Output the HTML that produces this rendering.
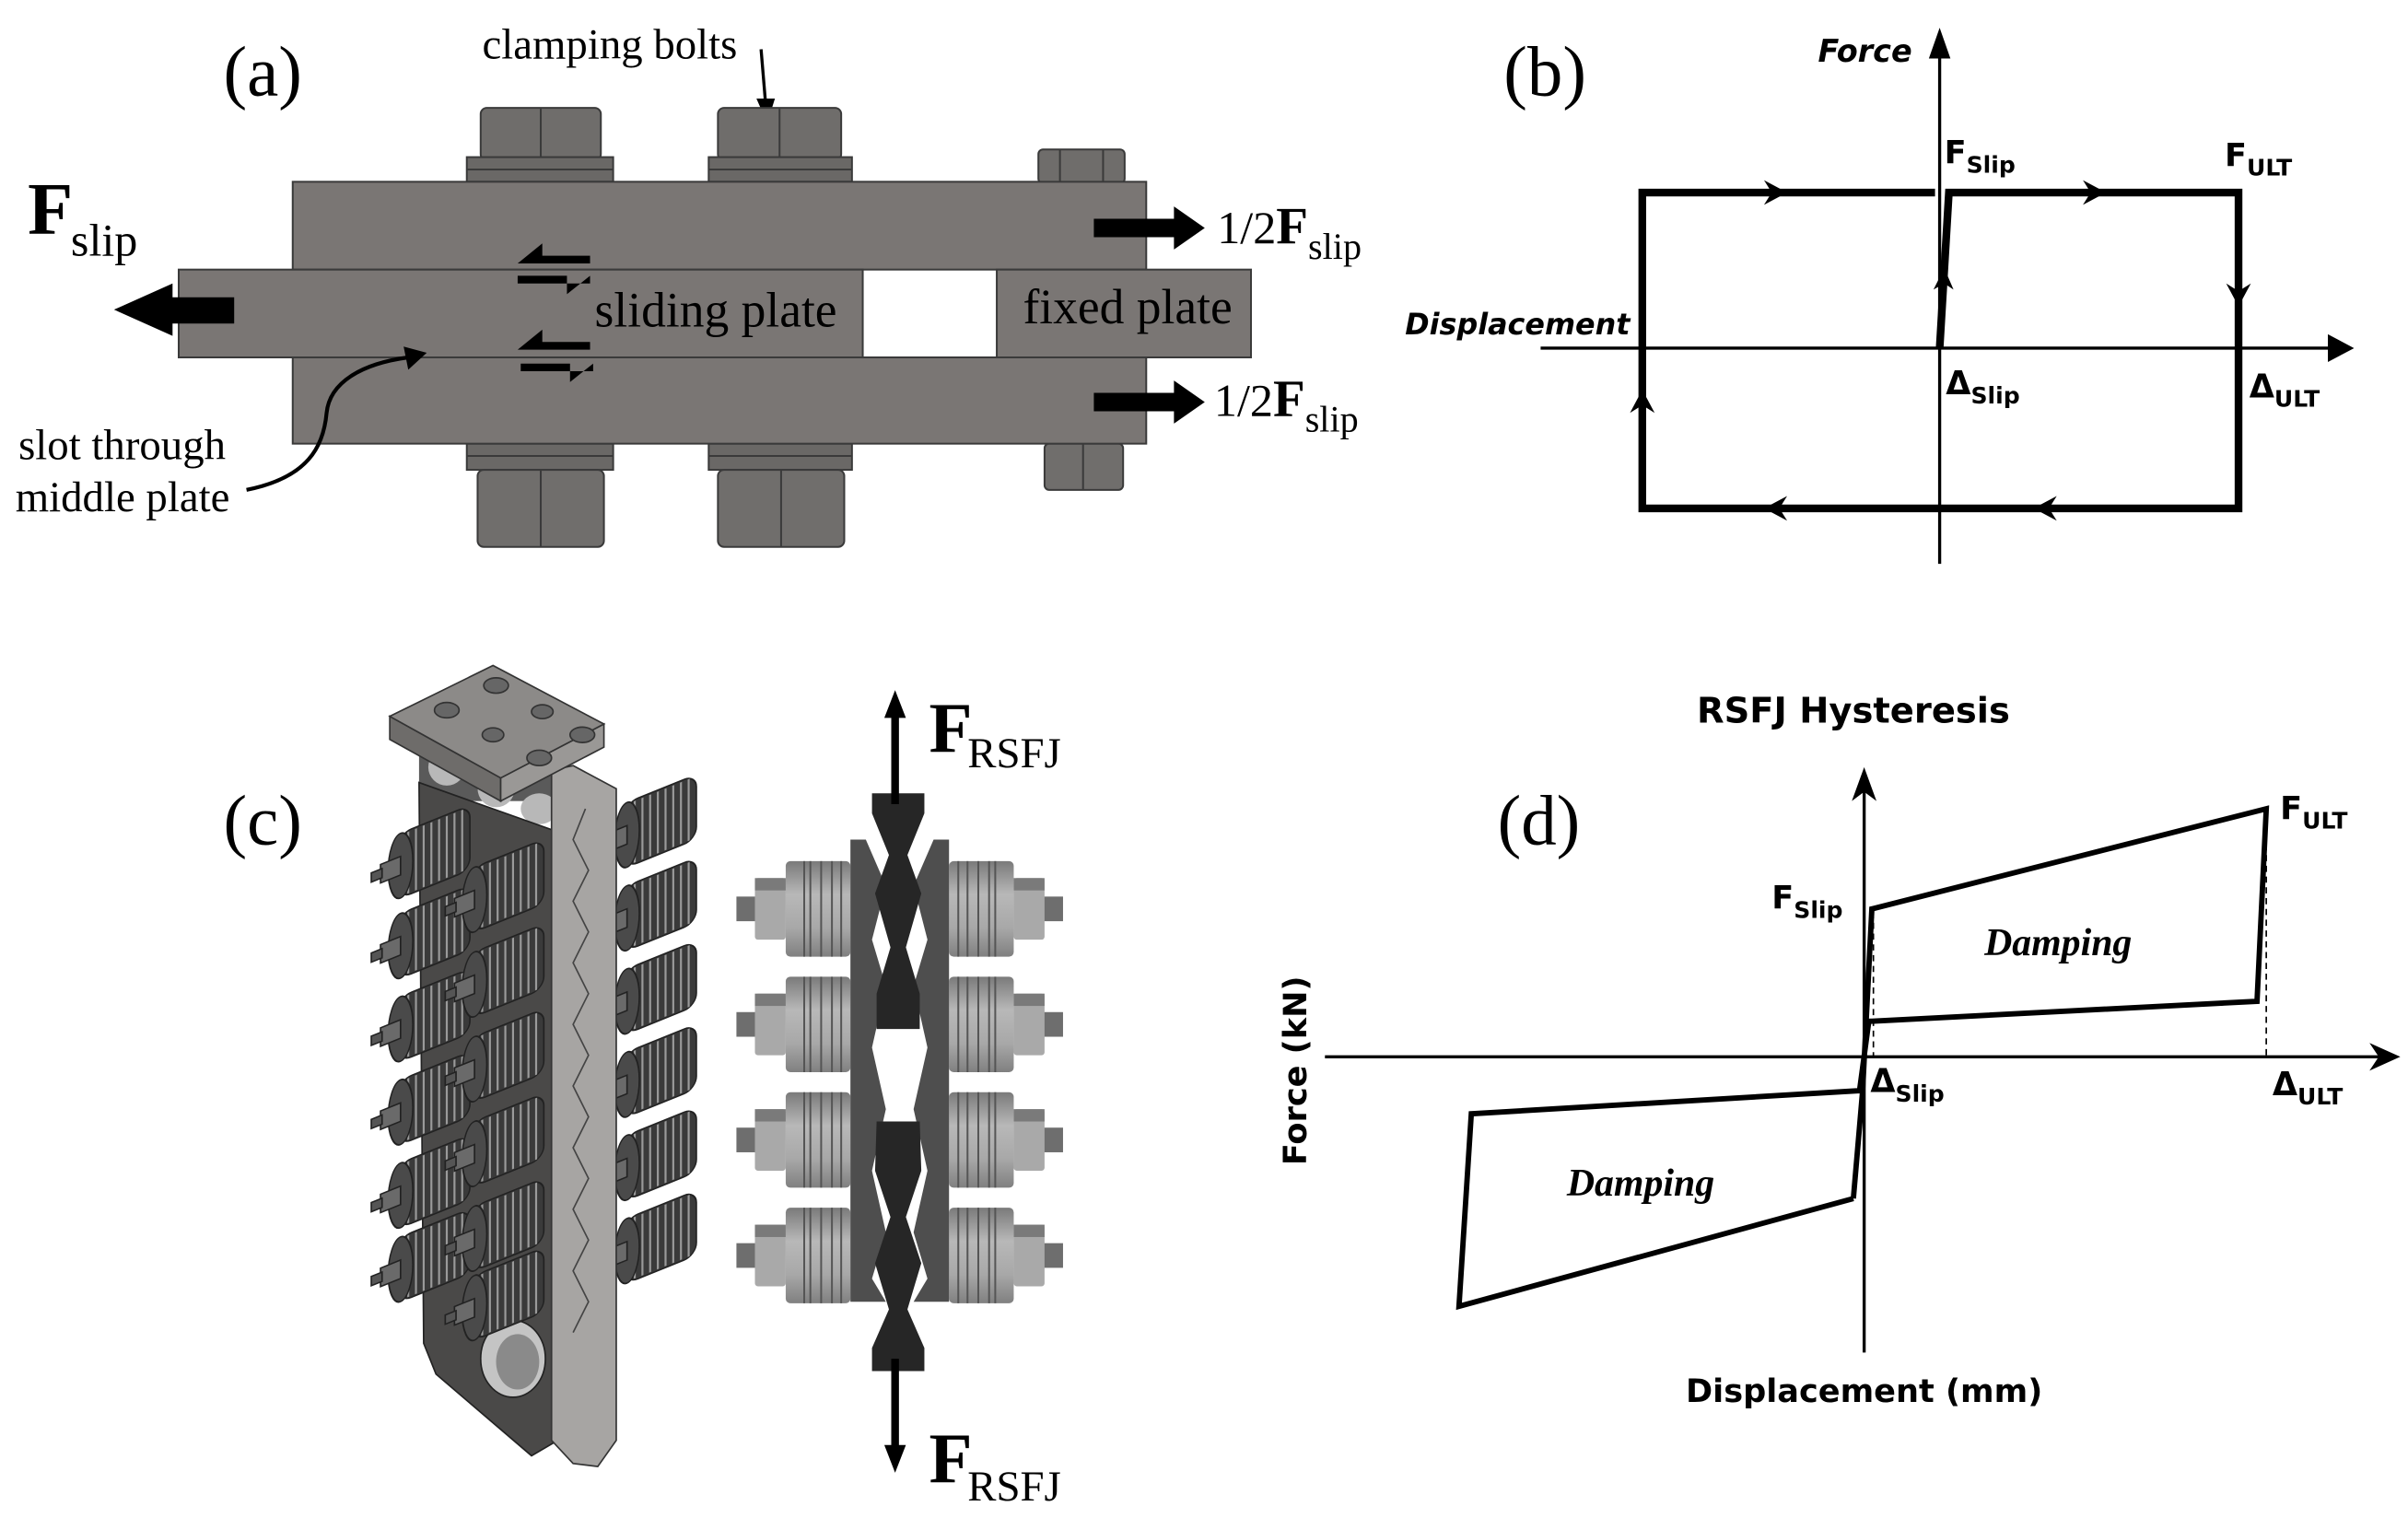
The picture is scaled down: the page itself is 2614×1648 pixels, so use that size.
<!DOCTYPE html>
<html><head><meta charset="utf-8"><style>
html,body{margin:0;padding:0;background:#fff;}
svg{display:block;}
.serif{font-family:"Liberation Serif",serif;}
.sans{font-family:"DejaVu Sans","Liberation Sans",sans-serif;font-weight:bold;}
</style></head><body>
<svg width="2614" height="1648" viewBox="0 0 1563 985.4" preserveAspectRatio="none" xmlns="http://www.w3.org/2000/svg">
<defs>
<linearGradient id="disc" x1="0" y1="0" x2="0" y2="1">
<stop offset="0" stop-color="#7a7a7a"/><stop offset="0.35" stop-color="#b8b8b8"/><stop offset="0.7" stop-color="#a8a8a8"/><stop offset="1" stop-color="#808080"/></linearGradient>
<g id="spring">
<g transform="skewY(-22)">
<rect x="14" y="-21" width="46" height="42" rx="8" fill="#3a3a3a" stroke="#222" stroke-width="1"/>
<g stroke="#9a9a9a" stroke-width="1.3">
<line x1="20" y1="-20" x2="20" y2="20"/><line x1="25" y1="-20" x2="25" y2="20"/><line x1="30" y1="-20" x2="30" y2="20"/><line x1="35" y1="-20" x2="35" y2="20"/><line x1="40" y1="-20" x2="40" y2="20"/><line x1="45" y1="-20" x2="45" y2="20"/><line x1="50" y1="-20" x2="50" y2="20"/><line x1="55" y1="-20" x2="55" y2="20"/></g>
<ellipse cx="15" cy="0" rx="8" ry="21" fill="#4a4a4a" stroke="#222"/>
<rect x="2" y="-6" width="13" height="12" fill="#6a6a6a" stroke="#222"/>
<rect x="-4" y="-3" width="7" height="6" fill="#555" stroke="#222"/>
</g></g>
<g id="stackL">
<rect x="478" y="-8" width="13" height="16" fill="#6e6e6e"/>
<rect x="490" y="-20" width="20" height="40" rx="2" fill="#a9a9a9"/>
<rect x="490" y="-20" width="20" height="8" fill="#7a7a7a"/>
<rect x="510" y="-31" width="42" height="62" rx="3" fill="url(#disc)"/>
<g stroke="#555" stroke-width="1.2"><line x1="522" y1="-31" x2="522" y2="31"/><line x1="526" y1="-31" x2="526" y2="31"/><line x1="533" y1="-31" x2="533" y2="31"/><line x1="540" y1="-31" x2="540" y2="31"/><line x1="546" y1="-31" x2="546" y2="31"/></g>
</g>
</defs>

<!-- ===== Panel (a) ===== -->
<text x="145" y="62" class="serif" font-size="46">(a)</text>
<text x="313" y="38" class="serif" font-size="28">clamping bolts</text>
<path d="M494,32 L497,68" stroke="#000" stroke-width="2" fill="none"/>
<path d="M491,64 L498,80 L503,64 Z" fill="#000"/>
<g stroke="#3a3a3a" stroke-width="1.2">
<rect x="312" y="70" width="78" height="34" rx="4" fill="#6f6d6b"/>
<line x1="351" y1="70" x2="351" y2="104"/>
<rect x="303" y="102" width="95" height="16" fill="#6a6866"/>
<line x1="303" y1="110" x2="398" y2="110"/>
<rect x="466" y="70" width="80" height="34" rx="4" fill="#6f6d6b"/>
<line x1="506" y1="70" x2="506" y2="104"/>
<rect x="460" y="102" width="93" height="16" fill="#6a6866"/>
<line x1="460" y1="110" x2="553" y2="110"/>
<rect x="674" y="97" width="56" height="22" rx="3" fill="#6f6d6b"/>
<line x1="688" y1="97" x2="688" y2="118"/><line x1="716" y1="97" x2="716" y2="118"/>
<rect x="303" y="288" width="95" height="17" fill="#6a6866"/>
<line x1="303" y1="296" x2="398" y2="296"/>
<rect x="310" y="305" width="82" height="50" rx="4" fill="#706e6c"/>
<line x1="351" y1="305" x2="351" y2="355"/>
<rect x="460" y="288" width="93" height="17" fill="#6a6866"/>
<line x1="460" y1="296" x2="553" y2="296"/>
<rect x="466" y="305" width="82" height="50" rx="4" fill="#706e6c"/>
<line x1="507" y1="305" x2="507" y2="355"/>
<rect x="678" y="288" width="51" height="30" rx="3" fill="#706e6c"/>
<line x1="703" y1="288" x2="703" y2="318"/>
<rect x="190" y="118" width="554" height="57" fill="#7a7674"/>
<rect x="190" y="232" width="554" height="56" fill="#7a7674"/>
<rect x="116" y="175" width="444" height="57" fill="#7a7674"/>
<rect x="647" y="175" width="165" height="57" fill="#7a7674"/>
</g>
<path d="M152,193 L112,193 L112,184 L74,201 L112,218 L112,210 L152,210 Z" fill="#000"/>
<path d="M383,166 L352,166 L352,158 L336,171 L383,171 Z" fill="#000"/>
<path d="M336,179 L368,179 L368,191 L383,179 L383,184 L336,184 Z" fill="#000"/>
<path d="M383,222 L352,222 L352,214 L336,227 L383,227 Z" fill="#000"/>
<path d="M338,236 L370,236 L370,248 L385,236 L385,241 L338,241 Z" fill="#000"/>
<path d="M710,142 L762,142 L762,134 L782,148 L762,162 L762,154 L710,154 Z" fill="#000"/>
<path d="M710,255 L762,255 L762,247 L782,261 L762,275 L762,267 L710,267 Z" fill="#000"/>
<text x="386" y="212" class="serif" font-size="32">sliding plate</text>
<text x="664" y="210" class="serif" font-size="32">fixed plate</text>
<text x="18" y="152" class="serif" font-size="48" font-weight="bold">F</text>
<text x="46" y="166" class="serif" font-size="30">slip</text>
<text x="790" y="158" class="serif" font-size="30">1/2<tspan font-weight="bold" font-size="34">F</tspan><tspan font-size="24" dy="10">slip</tspan></text>
<text x="788" y="270" class="serif" font-size="30">1/2<tspan font-weight="bold" font-size="34">F</tspan><tspan font-size="24" dy="10">slip</tspan></text>
<text x="12" y="298" class="serif" font-size="28">slot through</text>
<text x="10" y="332" class="serif" font-size="28">middle plate</text>
<path d="M160,318 C200,310 210,290 212,268 C214,248 235,236 265,232" stroke="#000" stroke-width="2.5" fill="none"/>
<path d="M262,225 L277,229 L265,240 Z" fill="#000"/>

<!-- ===== Panel (b) ===== -->
<text x="976" y="62" class="serif" font-size="46">(b)</text>
<line x1="1259" y1="30" x2="1259" y2="366" stroke="#000" stroke-width="2"/>
<path d="M1252,38 L1259,18 L1266,38 Z" fill="#000"/>
<line x1="1000" y1="226" x2="1515" y2="226" stroke="#000" stroke-width="2"/>
<path d="M1511,217 L1528,226 L1511,235 Z" fill="#000"/>
<g stroke="#000" stroke-width="5" fill="none">
<path d="M1256,125 L1066,125 L1066,330 L1453,330 L1453,125 L1265,125 L1259,226"/>
</g>
<g fill="#000">
<path d="M1145,117 L1160,125 L1145,133 L1150,125Z"/>
<path d="M1352,117 L1367,125 L1352,133 L1357,125Z"/>
<path d="M1445,184 L1453,199 L1461,184 L1453,189Z"/>
<path d="M1058,268 L1066,253 L1074,268 L1066,263Z"/>
<path d="M1160,322 L1145,330 L1160,338 L1155,330Z"/>
<path d="M1335,322 L1320,330 L1335,338 L1330,330Z"/>
<path d="M1255,188 L1262,174 L1268,188 L1262,184Z"/>
</g>
<text x="1180" y="40" class="sans" font-size="20" font-style="italic">Force</text>
<text x="912" y="217" class="sans" font-size="19" font-style="italic" textLength="146">Displacement</text>
<text x="1262" y="106" class="sans" font-size="21">F<tspan font-size="15" dy="6">Slip</tspan></text>
<text x="1444" y="108" class="sans" font-size="21">F<tspan font-size="15" dy="6">ULT</tspan></text>
<text x="1263" y="256" class="sans" font-size="21">Δ<tspan font-size="15" dy="6">Slip</tspan></text>
<text x="1460" y="258" class="sans" font-size="21">Δ<tspan font-size="15" dy="6">ULT</tspan></text>

<!-- ===== Panel (c) ===== -->
<text x="145" y="548" class="serif" font-size="46">(c)</text>
<use href="#spring" x="392" y="548"/><use href="#spring" x="392" y="602"/><use href="#spring" x="392" y="656"/>
<use href="#spring" x="392" y="710"/><use href="#spring" x="392" y="764"/><use href="#spring" x="392" y="818"/>
<rect x="272" y="480" width="90" height="40" fill="#5a5a5a"/>
<ellipse cx="290" cy="498" rx="12" ry="12" fill="#b8b8b8"/><ellipse cx="322" cy="512" rx="12" ry="12" fill="#b8b8b8"/><ellipse cx="350" cy="525" rx="12" ry="10" fill="#b8b8b8"/>
<path d="M272,508 L362,540 L362,935 L345,945 L283,892 L275,872 Z" fill="#4a4948" stroke="#222"/>
<ellipse cx="333" cy="882" rx="21" ry="25" fill="#c4c4c4" stroke="#222"/>
<ellipse cx="336" cy="884" rx="14" ry="18" fill="#8a8a8a"/>
<use href="#spring" x="245" y="568"/><use href="#spring" x="245" y="620"/><use href="#spring" x="245" y="674"/>
<use href="#spring" x="245" y="728"/><use href="#spring" x="245" y="782"/><use href="#spring" x="245" y="830"/>
<use href="#spring" x="293" y="590"/><use href="#spring" x="293" y="645"/><use href="#spring" x="293" y="700"/>
<use href="#spring" x="293" y="755"/><use href="#spring" x="293" y="810"/><use href="#spring" x="293" y="855"/>
<path d="M358,500 L372,497 L400,512 L400,935 L388,952 L372,950 L358,935 Z" fill="#a7a5a3" stroke="#333"/>
<path d="M380,525 L372,545 L382,565 L372,585 L382,605 L372,625 L382,645 L372,665 L382,685 L372,705 L382,725 L372,745 L382,765 L372,785 L382,805 L372,825 L382,845 L372,865" stroke="#444" fill="none"/>
<path d="M253,465 L325,505 L325,520 L253,480 Z" fill="#6e6c6a" stroke="#333"/>
<path d="M325,505 L392,470 L392,485 L325,520 Z" fill="#9a9896" stroke="#333"/>
<path d="M253,465 L320,432 L392,470 L325,505 Z" fill="#8c8a88" stroke="#333"/>
<g fill="#666" stroke="#333"><ellipse cx="290" cy="461" rx="8" ry="5"/><ellipse cx="322" cy="445" rx="8" ry="5"/><ellipse cx="352" cy="462" rx="7" ry="4.5"/><ellipse cx="320" cy="477" rx="7" ry="4.5"/><ellipse cx="378" cy="477" rx="8" ry="5"/><ellipse cx="350" cy="492" rx="8" ry="5"/></g>

<use href="#stackL" y="590"/><use href="#stackL" y="665"/><use href="#stackL" y="740"/><use href="#stackL" y="815"/>
<g transform="translate(1168,0) scale(-1,1)"><use href="#stackL" y="590"/><use href="#stackL" y="665"/><use href="#stackL" y="740"/><use href="#stackL" y="815"/></g>
<path d="M552,545 L562,545 L575,575 L566,610 L575,640 L566,680 L575,720 L566,760 L575,800 L566,830 L575,845 L552,845 Z" fill="#4e4e4e"/>
<path d="M616,545 L606,545 L593,575 L602,610 L593,640 L602,680 L593,720 L602,760 L593,800 L602,830 L593,845 L616,845 Z" fill="#4e4e4e"/>
<path d="M566,515 L600,515 L600,528 L589,555 L598,580 L588,615 L597,645 L597,668 L569,668 L569,645 L578,615 L568,580 L577,555 L566,528 Z" fill="#262626"/>
<path d="M569,728 L597,728 L598,760 L588,790 L598,820 L589,850 L600,875 L600,890 L566,890 L566,875 L577,850 L568,820 L578,790 L568,760 Z" fill="#262626"/>
<line x1="581" y1="462" x2="581" y2="522" stroke="#000" stroke-width="5"/>
<path d="M574,466 L581,448 L588,466 Z" fill="#000"/>
<line x1="581" y1="882" x2="581" y2="942" stroke="#000" stroke-width="5"/>
<path d="M574,938 L581,956 L588,938 Z" fill="#000"/>
<text x="603" y="488" class="serif" font-size="46" font-weight="bold">F</text>
<text x="628" y="498" class="serif" font-size="28">RSFJ</text>
<text x="603" y="962" class="serif" font-size="46" font-weight="bold">F</text>
<text x="628" y="974" class="serif" font-size="28">RSFJ</text>

<!-- ===== Panel (d) ===== -->
<text x="1203" y="469" class="sans" font-size="23" text-anchor="middle">RSFJ Hysteresis</text>
<text x="972" y="548" class="serif" font-size="46">(d)</text>
<line x1="1210" y1="505" x2="1210" y2="878" stroke="#000" stroke-width="2"/>
<path d="M1202,520 L1210,498 L1218,520 L1210,514 Z" fill="#000"/>
<line x1="860" y1="686" x2="1550" y2="686" stroke="#000" stroke-width="2"/>
<path d="M1538,677 L1558,686 L1538,695 L1544,686 Z" fill="#000"/>
<g stroke="#000" stroke-width="1" stroke-dasharray="4,3"><line x1="1216" y1="592" x2="1216" y2="686"/><line x1="1471" y1="527" x2="1471" y2="686"/></g>
<path d="M1203,778 L1209,708 L1215,590 L1471,525 L1465,650 L1213,663 L1207,708 L955,723 L947,848 L1203,778" fill="none" stroke="#000" stroke-width="3.5" stroke-linejoin="miter"/>
<text x="1150" y="590" class="sans" font-size="21">F<tspan font-size="15" dy="6">Slip</tspan></text>
<text x="1480" y="532" class="sans" font-size="21">F<tspan font-size="15" dy="6">ULT</tspan></text>
<text x="1214" y="709" class="sans" font-size="21">Δ<tspan font-size="15" dy="6">Slip</tspan></text>
<text x="1475" y="711" class="sans" font-size="21">Δ<tspan font-size="15" dy="6">ULT</tspan></text>
<text x="1288" y="620" class="serif" font-size="25" font-style="italic" font-weight="bold">Damping</text>
<text x="1017" y="776" class="serif" font-size="25" font-style="italic" font-weight="bold">Damping</text>
<text x="1210" y="910" class="sans" font-size="21" text-anchor="middle">Displacement (mm)</text>
<text transform="translate(848,695) rotate(-90)" class="sans" font-size="21" text-anchor="middle">Force (kN)</text>
</svg>
</body></html>
